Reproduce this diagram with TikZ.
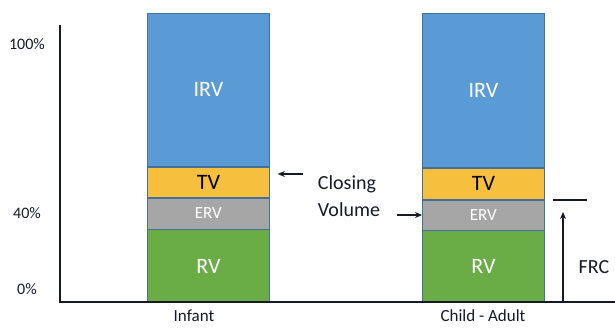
\documentclass[tikz,border=0pt]{standalone}
\usepackage{fontspec}
\setmainfont{Carlito}
\usetikzlibrary{arrows.meta, positioning}

\definecolor{irvblue}{RGB}{91,155,213}
\definecolor{tvyellow}{RGB}{246,192,62}
\definecolor{ervgray}{RGB}{166,166,166}
\definecolor{rvgreen}{RGB}{106,172,70}
\definecolor{barline}{RGB}{65,113,156}
\definecolor{inkdark}{RGB}{22,26,38}

\begin{document}
\begin{tikzpicture}[x=1pt, y=1pt, thick,
  seg/.style={draw=barline, line width=0.8pt, minimum width=122pt, inner sep=0pt, text=white, font=\fontsize{22}{22}\selectfont},
  ervseg/.style={seg, fill=ervgray, font=\fontsize{17}{17}\selectfont},
  lbl/.style={text=inkdark, font=\fontsize{16}{16}\selectfont},
  arr/.style={-{Stealth[length=7pt, width=6pt]}, line width=1.1pt, draw=inkdark}]
	\useasboundingbox (0,0) rectangle (615,-327);

	% Draw the infant bar
	\node[seg, fill=irvblue, minimum height=153pt, anchor=north west] (infIRV) at (147,-13) {IRV};
	\node[seg, fill=tvyellow, minimum height=30pt, text=black, below=0pt of infIRV] (infTV) {TV};
	\node[ervseg, minimum height=31pt, below=0pt of infTV] (infERV) {ERV};
	\node[seg, fill=rvgreen, minimum height=73pt, below=0pt of infERV] (infRV) {RV};

	% Draw the child - adult bar
	\node[seg, fill=irvblue, minimum height=154pt, anchor=north west] (adIRV) at (422,-13) {IRV};
	\node[seg, fill=tvyellow, minimum height=31pt, text=black, below=0pt of adIRV] (adTV) {TV};
	\node[ervseg, minimum height=30pt, below=0pt of adTV] (adERV) {ERV};
	\node[seg, fill=rvgreen, minimum height=72pt, below=0pt of adERV] (adRV) {RV};

	% Draw the axes
	\coordinate (axTop) at (60,-25);
	\coordinate (axOrig) at (60,-302);
	\coordinate (axEnd) at (615,-302);
	\draw[inkdark, line width=1.2pt] (axTop) -- (axOrig) -- (axEnd);

	\node[lbl] (p100) at (27,-44) {100\%};
	\node[lbl] (p40) at (27,-213) {40\%};
	\node[lbl] (p0) at (27,-289) {0\%};

	\node[lbl, font=\fontsize{17}{17}\selectfont] (infant) at (194,-316) {Infant};
	\node[lbl, font=\fontsize{17}{17}\selectfont] (adult) at (483,-316) {Child - Adult};

	% Closing volume and its arrows
	\node[lbl, font=\fontsize{20}{27}\selectfont, align=left] (closing) at (349,-196) {Closing\\Volume};
	\coordinate (cvIn) at (303,-174);
	\coordinate (cvOut) at (397,-215);
	\draw[arr, shorten >=8pt] (cvIn) -- (cvIn -| infTV.east);
	\draw[arr] (cvOut) -- (cvOut -| adERV.west);

	% FRC
	\coordinate (frcBase) at (563,-302);
	\coordinate (frcTip) at (563,-212);
	\coordinate (frcL) at (553,-200);
	\coordinate (frcR) at (587,-200);
	\draw[arr] (frcBase) -- (frcTip);
	\draw[inkdark, line width=1.1pt] (frcL) -- (frcR);
	\node[lbl, font=\fontsize{20}{20}\selectfont] (frc) at (594,-267) {FRC};
\end{tikzpicture}
\end{document}
